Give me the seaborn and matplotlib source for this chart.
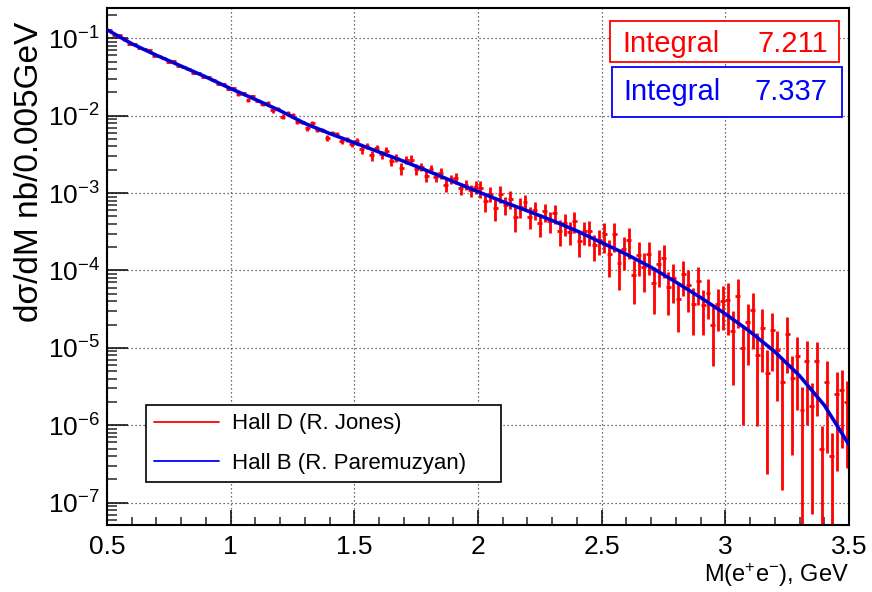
import matplotlib
matplotlib.use("Agg")
import matplotlib.pyplot as plt
import seaborn as sns
from matplotlib.lines import Line2D
from matplotlib.patches import Rectangle
from matplotlib.ticker import LogLocator, MultipleLocator, NullFormatter, FixedLocator, FixedFormatter

# ---------------- data ----------------
series_names = ["Hall D (R. Jones)", "Hall B (R. Paremuzyan)"]
series_colors = ["#ff0000", "#0000ff"]
integral_values = [7.211, 7.337]

# Hall B (smooth curve)
blue_mass = [0.5, 0.6, 0.7, 0.8, 0.9, 1.0, 1.1, 1.2, 1.3, 1.4, 1.5, 1.6, 1.7, 1.8, 1.9, 2.0,
             2.1, 2.2, 2.3, 2.4, 2.5, 2.6, 2.7, 2.8, 2.9, 3.0, 3.1, 3.2, 3.3, 3.4, 3.5]
blue_xsec = [0.129, 0.0851, 0.0603, 0.0437, 0.0316, 0.0224, 0.0162, 0.0116, 0.00794, 0.00589,
             0.00447, 0.00339, 0.00257, 0.00191, 0.00141, 0.00104, 7.76e-4, 5.89e-4, 4.42e-4,
             3.24e-4, 2.29e-4, 1.62e-4, 1.10e-4, 7.08e-5, 4.47e-5, 2.75e-5, 1.62e-5, 8.91e-6,
             4.37e-6, 1.82e-6, 5.6e-7]

# Hall D (histogram with error bars), bin centres
red_mass = [0.51, 0.53, 0.55, 0.57, 0.59, 0.61, 0.63, 0.65, 0.67, 0.69,
            0.71, 0.73, 0.75, 0.77, 0.79, 0.81, 0.83, 0.85, 0.87, 0.89,
            0.91, 0.93, 0.95, 0.97, 0.99, 1.01, 1.03, 1.05, 1.07, 1.09,
            1.11, 1.13, 1.15, 1.17, 1.19, 1.21, 1.23, 1.25, 1.27, 1.29,
            1.31, 1.33, 1.35, 1.37, 1.39, 1.41, 1.43, 1.45, 1.47, 1.49,
            1.51, 1.53, 1.55, 1.57, 1.59, 1.61, 1.63, 1.65, 1.67, 1.69,
            1.71, 1.73, 1.75, 1.77, 1.79, 1.81, 1.83, 1.85, 1.87, 1.89,
            1.91, 1.93, 1.95, 1.97, 1.99, 2.01, 2.03, 2.05, 2.07, 2.09,
            2.11, 2.13, 2.15, 2.17, 2.19, 2.21, 2.23, 2.25, 2.27, 2.29,
            2.31, 2.33, 2.35, 2.37, 2.39, 2.41, 2.43, 2.45, 2.47, 2.49,
            2.51, 2.53, 2.55, 2.57, 2.59, 2.61, 2.63, 2.65, 2.67, 2.69,
            2.71, 2.73, 2.75, 2.77, 2.79, 2.81, 2.83, 2.85, 2.87, 2.89,
            2.91, 2.93, 2.95, 2.97, 2.99, 3.01, 3.03, 3.05, 3.07, 3.09,
            3.11, 3.13, 3.15, 3.17, 3.19, 3.21, 3.23, 3.25, 3.27, 3.29,
            3.31, 3.33, 3.35, 3.37, 3.39, 3.41, 3.43, 3.45, 3.47, 3.49]
red_xsec = [1.265e-1, 1.112e-1, 1.096e-1, 9.64e-2, 8.47e-2,
            8.41e-2, 7.50e-2, 7.33e-2, 7.00e-2, 5.96e-2,
            5.83e-2, 5.60e-2, 4.90e-2, 5.04e-2, 4.41e-2,
            4.23e-2, 4.06e-2, 3.55e-2, 3.56e-2, 3.19e-2,
            3.20e-2, 2.85e-2, 2.60e-2, 2.54e-2, 2.21e-2,
            2.27e-2, 1.90e-2, 1.95e-2, 1.59e-2, 1.79e-2,
            1.57e-2, 1.40e-2, 1.47e-2, 1.17e-2, 1.23e-2,
            9.72e-3, 1.08e-2, 1.03e-2, 8.30e-3, 8.24e-3,
            6.87e-3, 7.96e-3, 6.53e-3, 6.59e-3, 5.16e-3,
            6.00e-3, 5.81e-3, 4.68e-3, 4.97e-3, 4.29e-3,
            4.66e-3, 3.66e-3, 4.07e-3, 3.06e-3, 3.82e-3,
            3.15e-3, 3.50e-3, 2.57e-3, 2.86e-3, 2.10e-3,
            2.67e-3, 2.70e-3, 2.02e-3, 2.18e-3, 1.67e-3,
            2.07e-3, 1.63e-3, 1.80e-3, 1.26e-3, 1.52e-3,
            1.57e-3, 1.15e-3, 1.29e-3, 1.08e-3, 1.20e-3,
            1.15e-3, 7.89e-4, 9.82e-4, 6.41e-4, 9.82e-4,
            7.05e-4, 8.39e-4, 4.90e-4, 6.70e-4, 7.62e-4,
            4.98e-4, 6.06e-4, 4.05e-4, 5.79e-4, 4.34e-4,
            5.51e-4, 3.27e-4, 4.05e-4, 3.17e-4, 4.40e-4,
            2.43e-4, 3.20e-4, 3.20e-4, 2.11e-4, 2.48e-4,
            2.92e-4, 1.64e-4, 2.92e-4, 1.24e-4, 1.88e-4,
            2.47e-4, 8.69e-5, 1.60e-4, 1.10e-4, 1.61e-4,
            6.93e-5, 1.21e-4, 1.46e-4, 6.12e-5, 7.93e-5,
            4.27e-5, 8.91e-5, 6.46e-5, 3.72e-5, 7.24e-5,
            3.54e-5, 5.09e-5, 1.97e-5, 3.74e-5, 3.99e-5,
            4.14e-5, 1.66e-5, 4.73e-5, 9.98e-6, 2.15e-5,
            3.05e-5, 8.17e-6, 1.82e-5, 4.76e-6, 1.68e-5,
            9.31e-6, 3.61e-6, 1.50e-5, 4.10e-6, 7.78e-6,
            1.59e-6, 6.70e-6, 1.78e-6, 6.67e-6, 4.99e-7,
            3.62e-6, 4.05e-7, 2.54e-6, 2.84e-6, 2.00e-6]
# relative statistical error of each Hall D bin
red_relerr = [0.02, 0.02, 0.02, 0.03, 0.02, 0.02, 0.03, 0.02, 0.02, 0.02,
              0.03, 0.02, 0.02, 0.03, 0.02, 0.03, 0.02, 0.03, 0.02, 0.03,
              0.03, 0.02, 0.03, 0.03, 0.03, 0.04, 0.05, 0.04, 0.06, 0.04,
              0.05, 0.06, 0.04, 0.07, 0.05, 0.08, 0.05, 0.06, 0.07, 0.05,
              0.08, 0.06, 0.07, 0.06, 0.09, 0.06, 0.07, 0.08, 0.07, 0.08,
              0.11, 0.13, 0.10, 0.15, 0.11, 0.12, 0.14, 0.13, 0.11, 0.18,
              0.12, 0.14, 0.16, 0.12, 0.17, 0.13, 0.14, 0.16, 0.19, 0.14,
              0.17, 0.18, 0.16, 0.17, 0.18, 0.24, 0.28, 0.22, 0.32, 0.25,
              0.27, 0.26, 0.35, 0.28, 0.23, 0.31, 0.27, 0.34, 0.26, 0.30,
              0.28, 0.36, 0.31, 0.33, 0.30, 0.38, 0.34, 0.35, 0.37, 0.36,
              0.42, 0.50, 0.40, 0.55, 0.46, 0.43, 0.58, 0.47, 0.52, 0.45,
              0.60, 0.50, 0.46, 0.57, 0.52, 0.62, 0.48, 0.55, 0.61, 0.51,
              0.58, 0.54, 0.70, 0.56, 0.57, 0.65, 0.80, 0.62, 0.90, 0.72,
              0.68, 0.88, 0.73, 0.95, 0.70, 0.78, 0.96, 0.68, 0.90, 0.80,
              0.97, 0.85, 0.96, 0.80, 0.99, 0.88, 0.99, 0.90, 0.82, 0.86]
red_bin_halfwidth = 0.01

x_ticks = [0.5, 1.0, 1.5, 2.0, 2.5, 3.0, 3.5]
x_ticklabels = ["0.5", "1", "1.5", "2", "2.5", "3", "3.5"]
y_ticks = [1e-7, 1e-6, 1e-5, 1e-4, 1e-3, 1e-2, 1e-1]
y_ticklabels = [r"$10^{-7}$", r"$10^{-6}$", r"$10^{-5}$", r"$10^{-4}$",
                r"$10^{-3}$", r"$10^{-2}$", r"$10^{-1}$"]

# ---------------- style ----------------
sns.set_theme(style="white")
plt.rcParams["font.family"] = ["Liberation Sans", "DejaVu Sans"]
plt.rcParams["mathtext.fontset"] = "custom"
plt.rcParams["mathtext.rm"] = "Liberation Sans"
plt.rcParams["mathtext.it"] = "Liberation Sans:italic"
plt.rcParams["mathtext.bf"] = "Liberation Sans:bold"
plt.rcParams["mathtext.default"] = "regular"

W, H = 872, 592
fig = plt.figure(figsize=(W / 100, H / 100), dpi=100)
fig.patch.set_facecolor("white")


def fx(px):
    return px / W


def fy(py):
    return 1 - py / H


ax = fig.add_axes([fx(107), fy(525), (849 - 107) / W, (525 - 8) / H])
ax.set_facecolor("white")
ax.set_yscale("log")
ax.set_xlim(0.5, 3.5)
ax.set_ylim(5.15e-8, 0.246)

# grid
ax.set_axisbelow(True)
ax.grid(True, which="major", color="#404040", linestyle=(0, (1, 2.2)), linewidth=0.9)
ax.grid(False, which="minor")

# Hall D histogram with error bars
red_err = [v * e for v, e in zip(red_xsec, red_relerr)]
ax.errorbar(red_mass, red_xsec, xerr=red_bin_halfwidth, yerr=red_err, fmt="none",
            ecolor=series_colors[0], elinewidth=2.0, capsize=0, zorder=2)

# Hall B curve
sns.lineplot(x=blue_mass, y=blue_xsec, ax=ax, color=series_colors[1], linewidth=2.6,
             sort=False, estimator=None, legend=False, zorder=3)
sns.lineplot(x=blue_mass, y=blue_xsec, ax=ax, color="#000080", linewidth=0.7,
             sort=False, estimator=None, legend=False, zorder=4)

# axes / ticks
for s in ax.spines.values():
    s.set_color("black")
    s.set_linewidth(1.5)
ax.xaxis.set_major_locator(FixedLocator(x_ticks))
ax.xaxis.set_major_formatter(FixedFormatter(x_ticklabels))
ax.xaxis.set_minor_locator(MultipleLocator(0.1))
ax.yaxis.set_major_locator(FixedLocator(y_ticks))
ax.yaxis.set_major_formatter(FixedFormatter(y_ticklabels))
ax.yaxis.set_minor_locator(LogLocator(base=10, subs=(2, 3, 4, 5, 6, 7, 8, 9), numticks=20))
ax.yaxis.set_minor_formatter(NullFormatter())
ax.tick_params(axis="x", which="major", direction="in", length=11, width=1.1,
               labelsize=19, pad=7, colors="black", bottom=True, top=False)
ax.tick_params(axis="x", which="minor", direction="in", length=5.5, width=1.1,
               bottom=True, top=False)
ax.tick_params(axis="y", which="major", direction="in", length=15, width=1.1,
               labelsize=19, pad=5, colors="black", left=True, right=False)
ax.tick_params(axis="y", which="minor", direction="in", length=7.5, width=1.1,
               left=True, right=False)

ax.set_xlabel(r"M(e$^{+}$e$^{-}$), GeV", fontsize=17, loc="right", color="black")
ax.xaxis.set_label_coords(1.0, (525 - 561) / 517)
ax.set_ylabel("dσ/dM nb/0.005GeV", fontsize=24, loc="top", color="black")
ax.yaxis.set_label_coords((45 - 107) / 742, (525 - 22) / 517)

# legend
handles = [Line2D([], [], color=c, lw=1.3) for c in series_colors]
leg = ax.legend(handles, series_names, loc="upper left",
                bbox_to_anchor=(fx(146), fy(481), (501 - 146) / W, 76 / H),
                bbox_transform=fig.transFigure, mode="expand", borderaxespad=0,
                borderpad=0.38, handlelength=2.9, handletextpad=0.6, labelspacing=0.82,
                fancybox=False, edgecolor="black", framealpha=1, fontsize=16)
leg.get_frame().set_linewidth(1.2)
for t in leg.get_texts():
    t.set_color("black")

# Integral boxes
boxes = [(610, 21, 839, 62, 52, 622, 828), (612, 67, 842, 117, 100, 623, 827)]
for (x0, y0, x1, y1, base, tx, vx), col, val in zip(boxes, series_colors, integral_values):
    fig.add_artist(Rectangle((fx(x0), fy(y1)), (x1 - x0) / W, (y1 - y0) / H,
                             transform=fig.transFigure, facecolor="white",
                             edgecolor=col, linewidth=1.3, zorder=5))
    fig.text(fx(tx), fy(base), "Integral", color=col, fontsize=21, ha="left",
             va="baseline", zorder=6)
    fig.text(fx(vx), fy(base), f"{val:.3f}", color=col, fontsize=21, ha="right",
             va="baseline", zorder=6)

fig.savefig("out.png", dpi=100)
